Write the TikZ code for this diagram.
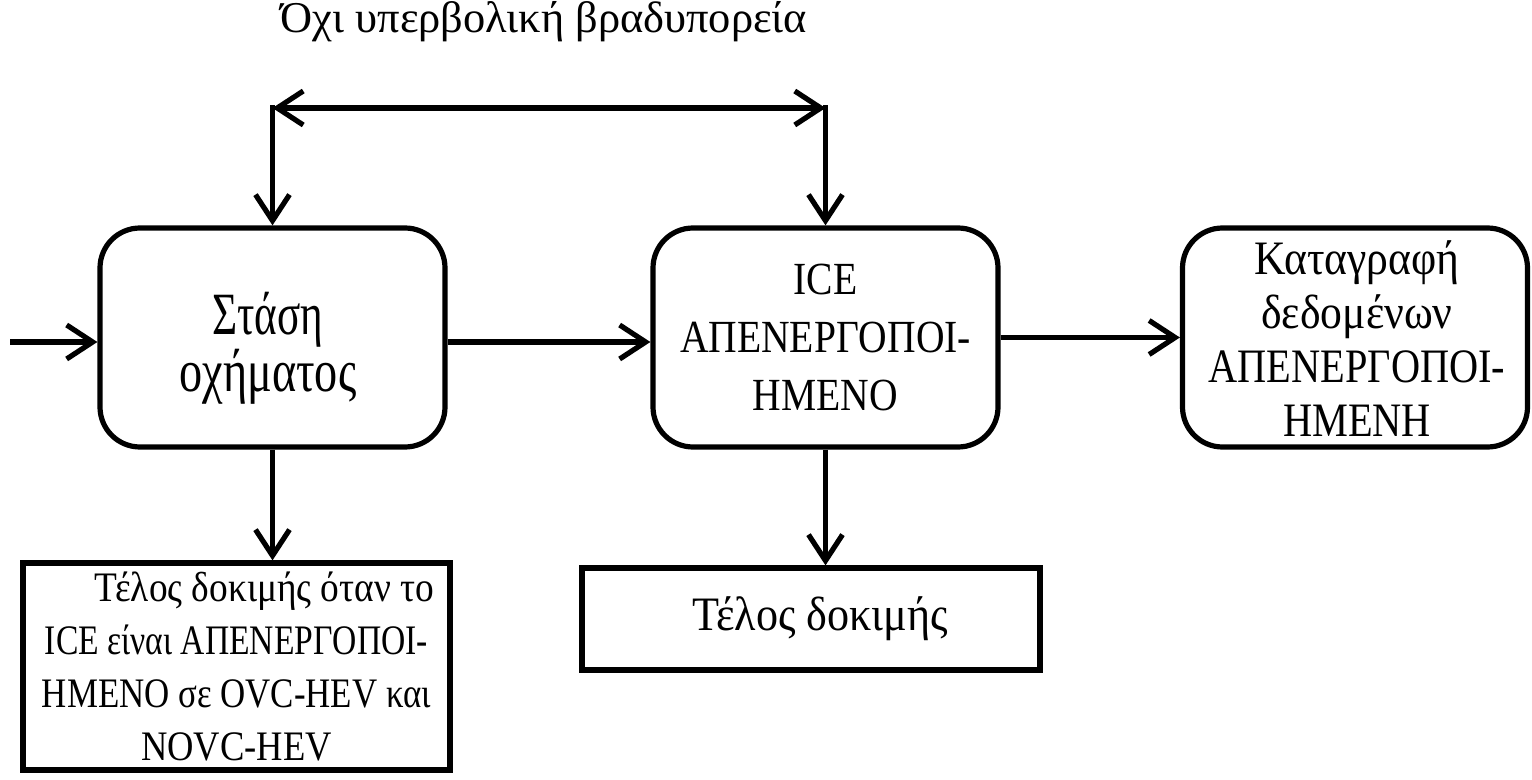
\documentclass[tikz,border=0pt]{standalone}
\usepackage{fontspec}
\setmainfont{Liberation Serif}
\newfontfamily\fTop[FakeStretch=1.01]{Liberation Serif}
\newfontfamily\fSa[FakeStretch=0.72]{Liberation Serif}
\newfontfamily\fSb[FakeStretch=0.77]{Liberation Serif}
\newfontfamily\fB[FakeStretch=0.86]{Liberation Serif}
\newfontfamily\fCl[FakeStretch=0.91]{Liberation Serif}
\newfontfamily\fCu[FakeStretch=0.84]{Liberation Serif}
\newfontfamily\fDa[FakeStretch=0.89]{Liberation Serif}
\newfontfamily\fDb[FakeStretch=0.80]{Liberation Serif}
\newfontfamily\fDc[FakeStretch=0.83]{Liberation Serif}
\newfontfamily\fDd[FakeStretch=0.87]{Liberation Serif}
\newfontfamily\fE[FakeStretch=0.92]{Liberation Serif}
\usetikzlibrary{arrows.meta}
\begin{document}
\begin{tikzpicture}[x=0.5pt,y=-0.5pt,
  lw/.style={line width=2.6pt},
  tipA/.tip={Straight Barb[length=13pt,width=17pt]},
  arr/.style={lw,-tipA},
  rbox/.style={draw,lw,rounded corners=20pt,minimum width=172.5pt,minimum height=109.5pt,inner sep=0pt},
  sbox/.style={draw,lw,align=center,inner sep=0pt},
  txt/.style={align=center,inner sep=0pt},
]
\useasboundingbox (0,0) rectangle (1532,780);

% boxes
\node[rbox] (b1) at (272.5,337.5) {};
\node[txt,anchor=north,font=\fontsize{30}{25}\selectfont] (b1t) at (268,292) {\fSa Στάση\\\fSb οχήματος};
\node[rbox,align=center,font=\fB\fontsize{23}{29}\selectfont] (b2) at (825.5,337.5) {ICE\\ΑΠΕΝΕΡΓΟΠΟΙ-\\ΗΜΕΝΟ};
\node[rbox] (b3) at (1355,337.5) {};
\node[txt,font=\fontsize{24}{27}\selectfont,anchor=north] (b3t) at (1357,240) {\fCl Καταγραφή\\\fCl δεδομένων\\\fCu ΑΠΕΝΕΡΓΟΠΟΙ-\\\fCu ΗΜΕΝΗ};
\node[sbox,minimum width=213.5pt,minimum height=103.5pt,font=\fontsize{21}{26.5}\selectfont] (b4) at (236.5,666.5)
  {\hspace*{28pt}\fDa Τέλος δοκιμής όταν το\\\fDb ICE είναι ΑΠΕΝΕΡΓΟΠΟΙ-\\\fDc ΗΜΕΝΟ σε OVC-HEV και\\\fDd NOVC-HEV};
\node[sbox,minimum width=229pt,minimum height=51pt,font=\fE\fontsize{24}{28}\selectfont] (b5) at (811,619) {\hspace*{9pt}Τέλος δοκιμής};

% top label
\node[txt,font=\fTop\fontsize{22}{26}\selectfont] (lbl) at (544,22) {Όχι υπερβολική βραδυπορεία};

% connectors
\coordinate (tl) at (272.5,108);
\coordinate (tr) at (825.5,108);
\coordinate (in) at (10,342);
\draw[lw,tipA-tipA] (tl) -- (tr);
\draw[arr,line cap=rect] (tl) -- (b1.north);
\draw[arr,line cap=rect] (tr) -- (b2.north);
\draw[arr] (in) -- (in -| b1.west);
\draw[arr] (b1.east |- in) -- (in -| b2.west);
\draw[arr] (b2.east) -- (b3.west);
\draw[arr] (b1.south) -- (b1.south |- b4.north);
\draw[arr] (b2.south) -- (b2.south |- b5.north);
\end{tikzpicture}
\end{document}
